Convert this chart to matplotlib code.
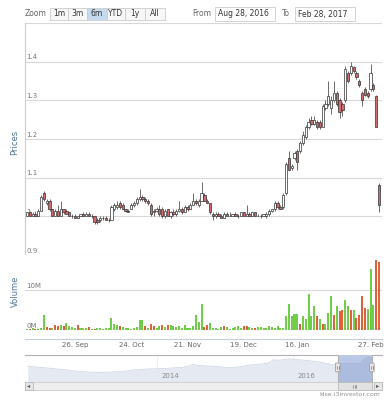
import matplotlib
matplotlib.use('Agg')
import matplotlib.pyplot as plt
import matplotlib.patches as patches
import numpy as np

# ---- data ----
opens = [1.00, 1.01, 1.00, 1.005, 1.00, 1.015, 1.06, 1.035, 1.04, 1.02,
         1.00, 1.015, 1.00, 1.02, 1.015, 1.01, 1.00, 1.00, 0.995, 1.00,
         1.005, 1.00, 1.005, 1.00, 1.00, 0.99, 0.99, 0.995, 0.995, 0.99,
         0.99, 1.02, 1.025, 1.035, 1.03, 1.02, 1.015, 1.02, 1.03, 1.035,
         1.045, 1.05, 1.045, 1.04, 1.03, 1.01, 1.015, 1.02, 1.02, 1.00,
         1.02, 1.00, 1.01, 1.005, 1.015, 1.02, 1.01, 1.025, 1.02, 1.03,
         1.04, 1.03, 1.04, 1.055, 1.04, 1.035, 1.005, 1.00, 1.005, 1.00,
         0.995, 1.005, 1.00, 1.00, 1.005, 1.00, 1.00, 1.01, 1.00, 1.005,
         1.00, 1.01, 1.00, 1.00, 1.00, 1.00, 1.005, 1.015, 1.02, 1.035,
         1.025, 1.025, 1.06, 1.15, 1.125, 1.15, 1.17, 1.17, 1.19, 1.205,
         1.23, 1.25, 1.24, 1.245, 1.245, 1.23, 1.28, 1.29, 1.28, 1.30,
         1.32, 1.30, 1.29, 1.30, 1.37, 1.37, 1.385, 1.37, 1.35, 1.32,
         1.33, 1.32, 1.33, 1.34, 1.31, 1.08]
highs = [1.01, 1.015, 1.01, 1.015, 1.02, 1.055, 1.065, 1.045, 1.045, 1.02,
         1.02, 1.03, 1.04, 1.02, 1.02, 1.01, 1.005, 1.005, 1.00, 1.005,
         1.01, 1.01, 1.01, 1.005, 1.00, 0.995, 1.00, 1.00, 1.00, 0.995,
         1.03, 1.035, 1.04, 1.04, 1.035, 1.02, 1.02, 1.035, 1.04, 1.05,
         1.07, 1.055, 1.05, 1.045, 1.035, 1.02, 1.025, 1.03, 1.025, 1.02,
         1.02, 1.015, 1.02, 1.02, 1.04, 1.025, 1.03, 1.03, 1.035, 1.06,
         1.045, 1.045, 1.09, 1.06, 1.045, 1.035, 1.01, 1.01, 1.01, 1.005,
         1.01, 1.01, 1.01, 1.005, 1.01, 1.005, 1.01, 1.01, 1.03, 1.01,
         1.01, 1.01, 1.005, 1.005, 1.005, 1.01, 1.02, 1.02, 1.04, 1.04,
         1.03, 1.06, 1.14, 1.17, 1.135, 1.17, 1.175, 1.195, 1.22, 1.235,
         1.255, 1.26, 1.26, 1.25, 1.25, 1.29, 1.30, 1.35, 1.31, 1.35,
         1.325, 1.305, 1.295, 1.39, 1.375, 1.40, 1.39, 1.375, 1.355, 1.325,
         1.335, 1.325, 1.395, 1.345, 1.315, 1.085]
lows = [1.00, 1.00, 1.00, 1.00, 1.00, 1.015, 1.04, 1.03, 1.015, 1.00,
        1.00, 1.00, 1.00, 1.005, 1.005, 1.00, 0.995, 0.995, 0.995, 1.00,
        1.00, 1.00, 1.00, 0.995, 0.98, 0.98, 0.985, 0.99, 0.99, 0.985,
        0.99, 1.015, 1.02, 1.02, 1.02, 1.01, 1.01, 1.02, 1.025, 1.03,
        1.04, 1.04, 1.035, 1.03, 1.00, 1.00, 1.01, 1.00, 0.995, 0.995,
        1.00, 0.995, 1.00, 1.00, 1.01, 1.005, 1.01, 1.015, 1.02, 1.03,
        1.03, 1.025, 1.04, 1.04, 1.035, 1.005, 0.99, 0.995, 1.00, 0.995,
        0.995, 1.00, 1.00, 1.00, 1.00, 0.995, 1.00, 1.00, 1.00, 1.00,
        1.00, 1.00, 1.00, 0.995, 1.00, 0.995, 1.00, 1.01, 1.015, 1.02,
        1.02, 1.02, 1.055, 1.12, 1.12, 1.145, 1.12, 1.165, 1.185, 1.20,
        1.225, 1.235, 1.235, 1.225, 1.225, 1.23, 1.275, 1.285, 1.265, 1.295,
        1.285, 1.255, 1.26, 1.295, 1.345, 1.365, 1.37, 1.355, 1.335, 1.285,
        1.31, 1.305, 1.325, 1.325, 1.23, 1.01]
closes = [1.01, 1.00, 1.005, 1.00, 1.015, 1.05, 1.045, 1.04, 1.02, 1.00,
          1.015, 1.00, 1.02, 1.01, 1.005, 1.00, 1.00, 0.995, 1.00, 1.005,
          1.00, 1.005, 1.00, 1.00, 0.985, 0.985, 0.995, 0.995, 0.99, 0.99,
          1.025, 1.03, 1.03, 1.025, 1.02, 1.015, 1.01, 1.03, 1.035, 1.045,
          1.05, 1.045, 1.04, 1.035, 1.005, 1.015, 1.02, 1.005, 1.00, 1.015,
          1.00, 1.01, 1.005, 1.015, 1.02, 1.01, 1.025, 1.02, 1.03, 1.04,
          1.035, 1.04, 1.06, 1.04, 1.035, 1.01, 1.00, 1.005, 1.00, 0.995,
          1.005, 1.00, 1.00, 1.005, 1.00, 1.00, 1.01, 1.00, 1.005, 1.00,
          1.01, 1.00, 1.00, 1.00, 1.005, 1.005, 1.015, 1.02, 1.035, 1.025,
          1.02, 1.055, 1.135, 1.12, 1.13, 1.165, 1.14, 1.19, 1.21, 1.23,
          1.245, 1.24, 1.25, 1.23, 1.23, 1.285, 1.29, 1.31, 1.30, 1.32,
          1.29, 1.27, 1.275, 1.38, 1.35, 1.39, 1.375, 1.36, 1.34, 1.30,
          1.315, 1.31, 1.37, 1.33, 1.23, 1.03]

volumes = [0.3, 0.2, 0.4, 0.2, 0.3, 0.4, 3.8, 0.8, 0.5, 0.6,
           1.2, 1.1, 1.2, 1.0, 1.8, 1.0, 0.8, 0.4, 1.2, 0.6,
           0.4, 0.5, 0.7, 0.3, 0.3, 0.5, 0.4, 0.3, 0.4, 0.5,
           2.9, 1.5, 1.3, 1.0, 0.8, 0.4, 0.6, 0.3, 0.5, 0.8,
           2.6, 2.5, 0.9, 0.6, 1.4, 1.0, 0.6, 0.9, 1.3, 0.8,
           1.2, 1.2, 1.0, 0.8, 1.1, 0.6, 1.2, 0.5, 0.5, 1.1,
           3.8, 2.0, 6.6, 0.8, 1.2, 1.7, 0.5, 0.4, 0.3, 0.8,
           0.9, 0.8, 0.3, 0.5, 0.8, 1.0, 0.4, 0.9, 1.1, 0.7,
           0.6, 0.5, 0.8, 0.7, 0.4, 0.5, 1.0, 0.8, 0.6, 0.9,
           0.5, 0.6, 3.4, 6.4, 3.5, 4.0, 4.0, 1.6, 3.5, 2.7,
           9.0, 3.6, 5.9, 3.4, 2.8, 1.5, 1.5, 4.3, 8.6, 3.8,
           6.0, 4.8, 4.9, 7.4, 5.9, 5.0, 5.0, 2.9, 3.7, 8.6,
           5.6, 5.2, 15.2, 6.2, 17.5, 17.1]
# 1 = green (up) volume bar, 0 = red (down)
volume_up = [1, 0, 1, 0, 1, 1, 1, 0, 0, 1,
             0, 0, 1, 0, 1, 1, 1, 1, 0, 1,
             1, 1, 0, 1, 0, 1, 1, 1, 1, 1,
             1, 1, 1, 0, 1, 1, 1, 1, 1, 1,
             1, 1, 0, 1, 0, 0, 1, 1, 0, 1,
             0, 1, 1, 1, 1, 1, 1, 1, 1, 1,
             1, 1, 1, 0, 0, 1, 1, 1, 1, 1,
             0, 1, 1, 1, 1, 1, 1, 0, 0, 1,
             1, 0, 1, 1, 1, 1, 1, 1, 1, 1,
             1, 1, 1, 1, 1, 1, 1, 0, 1, 1,
             1, 1, 1, 0, 1, 0, 1, 1, 1, 0,
             1, 0, 0, 1, 1, 0, 1, 0, 0, 0,
             0, 1, 1, 1, 0, 0]

tick_idx = [17, 37, 57, 77, 96, 122]
tick_labels = ['26. Sep', '24. Oct', '21. Nov', '19. Dec', '16. Jan', '27. Feb']
price_grid = [0.9, 1.0, 1.1, 1.2, 1.3, 1.4, 1.5]
price_grid_labels = ['0.9', '1', '1.1', '1.2', '1.3', '1.4', '']
volume_grid = [0, 10]
volume_grid_labels = ['0M', '10M']

# navigator overview (years, price)
nav_years = [2012.10, 2012.16, 2012.30, 2012.43, 2012.55, 2012.68, 2012.80, 2012.91,
             2013.05, 2013.16, 2013.30, 2013.41, 2013.55, 2013.65, 2013.78, 2013.90,
             2014.02, 2014.15, 2014.28, 2014.38, 2014.47, 2014.53, 2014.58, 2014.63,
             2014.75, 2014.88, 2015.00, 2015.12, 2015.25, 2015.37, 2015.50, 2015.62,
             2015.71, 2015.80, 2015.90, 2015.96, 2016.03, 2016.10, 2016.22, 2016.35,
             2016.47, 2016.59, 2016.66, 2016.76, 2016.88, 2016.99, 2017.03, 2017.08,
             2017.13, 2017.16]
nav_prices = [0.90, 0.87, 0.83, 0.79, 0.75, 0.71, 0.66, 0.62,
              0.60, 0.59, 0.60, 0.62, 0.66, 0.71, 0.74, 0.76,
              0.77, 0.79, 0.82, 0.84, 0.90, 0.99, 0.94, 0.92,
              0.90, 0.87, 0.84, 0.82, 0.88, 0.95, 0.99, 1.03,
              1.20, 1.18, 1.24, 1.25, 1.22, 1.20, 1.17, 1.11,
              1.05, 0.95, 1.00, 1.01, 1.02, 1.01, 1.20, 1.28,
              1.36, 1.23]
nav_year_ticks = [2014, 2016]
nav_year_labels = ['2014', '2016']
sel_start, sel_end = 2016.66, 2017.16

range_buttons = ['1m', '3m', '6m', 'YTD', '1y', 'All']
range_from = 'Aug 28, 2016'
range_to = 'Feb 28, 2017'

# ---- figure ----
W, H = 387, 400
fig = plt.figure(figsize=(W / 100, H / 100), dpi=100)
fig.patch.set_facecolor('white')
PT = 72 / 100  # points per pixel


def box(x0, y0, x1, y1):
    return [x0 / W, 1 - y1 / H, (x1 - x0) / W, (y1 - y0) / H]


def rect(x0, y0, x1, y1, **kw):
    r = patches.Rectangle((x0 / W, 1 - y1 / H), (x1 - x0) / W, (y1 - y0) / H,
                          transform=fig.transFigure, **kw)
    fig.add_artist(r)
    return r


GRID = '#d8d8d8'
LABEL = '#666666'

ax_p = fig.add_axes(box(25, 23, 382, 255))
ax_v = fig.add_axes(box(25, 255, 382, 330), sharex=ax_p)
ax_n = fig.add_axes(box(25, 355, 382, 382))

o = np.array(opens); h = np.array(highs); l = np.array(lows); c = np.array(closes)
x = np.arange(len(c))
up = c >= o

# price pane
for sp in ['top', 'right', 'bottom']:
    ax_p.spines[sp].set_visible(False)
ax_p.spines['left'].set_color('#cccccc')
ax_p.spines['left'].set_linewidth(0.8)
ax_p.set_ylim(0.9, 1.5)
ax_p.set_xlim(-0.71, len(c) + 0.07)
ax_p.set_yticks(price_grid)
ax_p.grid(axis='y', color=GRID, lw=0.8, zorder=0)
ax_p.tick_params(left=False, labelleft=False, bottom=False, labelbottom=False)
for v, lab in zip(price_grid, price_grid_labels):
    ax_p.annotate(lab, (0, v), xycoords=ax_p.get_yaxis_transform(), xytext=(1, 1),
                  textcoords='offset points', fontsize=5, color='#777777', va='bottom', zorder=1)

ax_p.vlines(x, l, h, color='#333333', lw=0.5, zorder=2)
body = np.maximum(np.abs(c - o), 0.0012)
ax_p.bar(x, body, bottom=np.minimum(o, c), width=0.8,
         color=np.where(up, 'white', '#d4696b'), edgecolor='#333333', linewidth=0.5, zorder=3)
fig.text(15 / W, 1 - 142 / H, 'Prices', rotation=90, ha='center', va='center',
         fontsize=6, color='#4d759e')

# volume pane
for sp in ['top', 'right', 'left']:
    ax_v.spines[sp].set_visible(False)
ax_v.spines['bottom'].set_position(('outward', 9 * PT))
ax_v.spines['bottom'].set_color('#c0d0e0')
ax_v.spines['bottom'].set_linewidth(0.8)
ax_v.set_ylim(0, 18.75)
ax_v.set_yticks(volume_grid)
ax_v.grid(axis='y', color=GRID, lw=0.8, zorder=0)
ax_v.tick_params(left=False, labelleft=False, length=0, pad=2, labelsize=5, labelcolor=LABEL)
ax_v.set_xticks(tick_idx)
ax_v.set_xticklabels(tick_labels)
for v, lab in zip(volume_grid, volume_grid_labels):
    ax_v.annotate(lab, (0, v), xycoords=ax_v.get_yaxis_transform(), xytext=(1, 1),
                  textcoords='offset points', fontsize=5, color='#777777', va='bottom', zorder=1)
vol_colors = ['#6fcd4a' if u else '#e0623a' for u in volume_up]
ax_v.bar(x, volumes, width=0.72, color=vol_colors, linewidth=0, zorder=3)
fig.text(15 / W, 1 - 291 / H, 'Volume', rotation=90, ha='center', va='center',
         fontsize=6, color='#4d759e')

# navigator
ax_n.set_xlim(2012.06, 2017.31)
ax_n.set_ylim(0.12, 1.44)
for sp in ax_n.spines.values():
    sp.set_visible(False)
ax_n.tick_params(left=False, labelleft=False, bottom=False, labelbottom=False)
for yr, lab in zip(nav_year_ticks, nav_year_labels):
    ax_n.axvline(yr, color='#eeeeee', lw=0.7, zorder=0)
    ax_n.annotate(lab, (yr, 0), xycoords=ax_n.get_xaxis_transform(), xytext=(3, 2),
                  textcoords='offset points', fontsize=5, color='#888888', va='bottom', zorder=4)
ax_n.fill_between(nav_years, nav_prices, 0.12, color='#e5eaf2', lw=0, zorder=1)
ax_n.plot(nav_years, nav_prices, color='#cfd8e6', lw=0.6, zorder=2)
ax_n.axvspan(sel_start, sel_end, color=(0.40, 0.52, 0.78), alpha=0.45, lw=0, zorder=3)
tr = ax_n.get_xaxis_transform()
ax_n.plot([2012.06, sel_start, sel_start, sel_end, sel_end, 2017.31], [1, 1, 0, 0, 1, 1],
          color='#b2b1b6', lw=0.8, transform=tr, clip_on=False, zorder=5)
for xs in (sel_start, sel_end):
    ax_n.add_patch(patches.FancyBboxPatch((xs - 0.035, 0.38), 0.07, 0.32,
                                          boxstyle='round,pad=0,rounding_size=0.02',
                                          transform=tr, facecolor='#ebe7e8',
                                          edgecolor='#a0a0a0', lw=0.6, zorder=6, clip_on=False))
    ax_n.plot([xs - 0.012, xs - 0.012], [0.47, 0.61], color='#555555', lw=0.4,
              transform=tr, zorder=7, clip_on=False)
    ax_n.plot([xs + 0.012, xs + 0.012], [0.47, 0.61], color='#555555', lw=0.4,
              transform=tr, zorder=7, clip_on=False)

# scrollbar
rect(25, 382, 382, 390, facecolor='#eeeeee', edgecolor='#cccccc', lw=0.6)
x_sel0 = 25 + (sel_start - 2012.06) / (2017.31 - 2012.06) * 357
x_sel1 = 25 + (sel_end - 2012.06) / (2017.31 - 2012.06) * 357
rect(x_sel0, 382, x_sel1, 390, facecolor='#e2e2e2', edgecolor='#bbbbbb', lw=0.6)
mid = (x_sel0 + x_sel1) / 2
for dx in (-1.5, 0, 1.5):
    fig.add_artist(plt.Line2D([(mid + dx) / W] * 2, [1 - 384.5 / H, 1 - 387.5 / H],
                              color='#666666', lw=0.4, transform=fig.transFigure))
rect(25, 382, 33, 390, facecolor='#e6e6e6', edgecolor='#bbbbbb', lw=0.6)
rect(374, 382, 382, 390, facecolor='#e6e6e6', edgecolor='#bbbbbb', lw=0.6)
fig.text(29 / W, 1 - 386 / H, '◂', fontsize=4.5, color='#555555', ha='center', va='center')
fig.text(378 / W, 1 - 386 / H, '▸', fontsize=4.5, color='#555555', ha='center', va='center')

fig.text(380 / W, 1 - 395 / H, 'klse.i3investor.com', fontsize=4.5, color='#909090',
         ha='right', va='center')

# range selector toolbar
fig.text(25 / W, 1 - 14 / H, 'Zoom', fontsize=5.5, color=LABEL, va='center')
btn_edges = [50, 68, 87, 107, 125, 145, 165]
for i, lab in enumerate(range_buttons):
    x0, x1 = btn_edges[i], btn_edges[i + 1]
    fc = '#c5d9ef' if lab == '6m' else '#f7f7f7'
    rect(x0, 8, x1, 20, facecolor=fc, edgecolor='#cccccc', lw=0.6)
    fig.text((x0 + x1) / 2 / W, 1 - 14 / H, lab, fontsize=5.5, color='#333333',
             ha='center', va='center')
fig.text(192 / W, 1 - 14 / H, 'From', fontsize=5.5, color=LABEL, va='center')
rect(215, 7, 275, 21, facecolor='white', edgecolor='#cccccc', lw=0.6)
fig.text(218 / W, 1 - 14 / H, range_from, fontsize=5.5, color='#333333', va='center')
fig.text(282 / W, 1 - 14 / H, 'To', fontsize=5.5, color=LABEL, va='center')
rect(295, 7, 355, 21, facecolor='white', edgecolor='#cccccc', lw=0.6)
fig.text(298 / W, 1 - 14 / H, range_to, fontsize=5.5, color='#333333', va='center')

fig.savefig('out.png', dpi=100)
